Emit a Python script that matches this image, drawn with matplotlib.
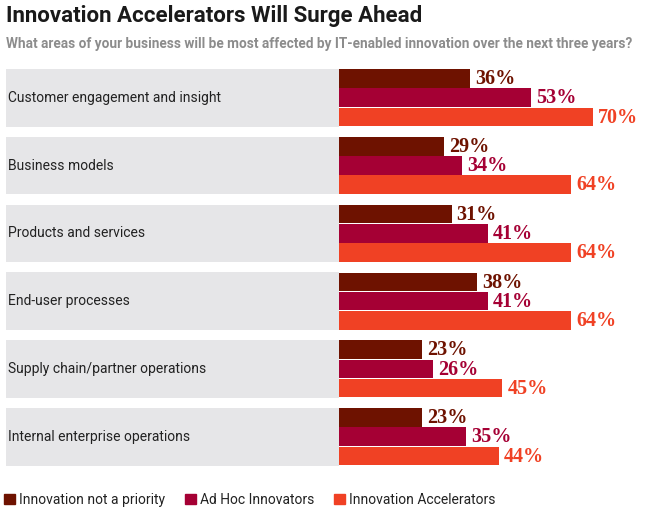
import numpy as np
import matplotlib.pyplot as plt
from matplotlib.patches import Patch

categories = ['Customer engagement and insight', 'Business models', 'Products and services',
              'End-user processes', 'Supply chain/partner operations', 'Internal enterprise operations']
not_priority = [36, 29, 31, 38, 23, 23]
ad_hoc = [53, 34, 41, 41, 26, 35]
accelerators = [70, 64, 64, 64, 45, 44]
series_names = ['Innovation not a priority', 'Ad Hoc Innovators', 'Innovation Accelerators']
colors = ['#6e1200', '#a50034', '#f04124']

W, H = 647, 519
fig = plt.figure(figsize=(W / 100, H / 100), dpi=100)

# axes placed so that 0% sits at x=339px and groups line up with the reference
px_per_pct = 3.63
x0 = 339
ax = fig.add_axes([6 / W, 1 - 470.65 / H, (W - 6) / W, (470.65 - 63.85) / H])
ax.set_xlim(-(x0 - 6) / px_per_pct, (W - x0) / px_per_pct)
ax.set_ylim(5.5, -0.5)
ax.axis('off')

y = np.arange(len(categories))
grp_h = 57.5 / 67.8
bh = grp_h / 3
xmin = ax.get_xlim()[0]

# gray label band
ax.barh(y, -xmin, left=xmin, height=grp_h, color='#e6e6e8', linewidth=0)
for i, cat in enumerate(categories):
    ax.text(xmin + 0.6, y[i], cat, va='center', ha='left', fontsize=10,
            family='Roboto', color='#222222')

for k, vals in enumerate([not_priority, ad_hoc, accelerators]):
    yy = y - grp_h / 2 + bh * (k + 0.5)
    ax.barh(yy, vals, height=bh * 0.97, color=colors[k], linewidth=0)
    for yi, v in zip(yy, vals):
        ax.text(v + 1.4, yi + 0.01, f'{v}%', va='center', ha='left', fontsize=14.5,
                fontweight='bold', family='Liberation Serif', color=colors[k])

fig.text(6 / W, 1 - 16 / H, 'Innovation Accelerators Will Surge Ahead', fontsize=16,
         fontweight='bold', family='Roboto', color='#1a1a1a', va='center')
fig.text(6 / W, 1 - 44 / H,
         'What areas of your business will be most affected by IT-enabled innovation over the next three years?',
         fontsize=9.8, fontweight='bold', family='Roboto', color='#8c8c8c', va='center')

handles = [Patch(color=c, label=n) for c, n in zip(colors, series_names)]
leg = fig.legend(handles=handles, loc='center left', bbox_to_anchor=(0.0, 1 - 500 / H),
                 ncol=3, frameon=False, handlelength=0.8, handleheight=0.8, handletextpad=0.3,
                 columnspacing=1.4, borderaxespad=0, borderpad=0.3,
                 prop={'family': 'Roboto', 'size': 10})
for t in leg.get_texts():
    t.set_color('#222222')

fig.savefig('out.png', dpi=100)
